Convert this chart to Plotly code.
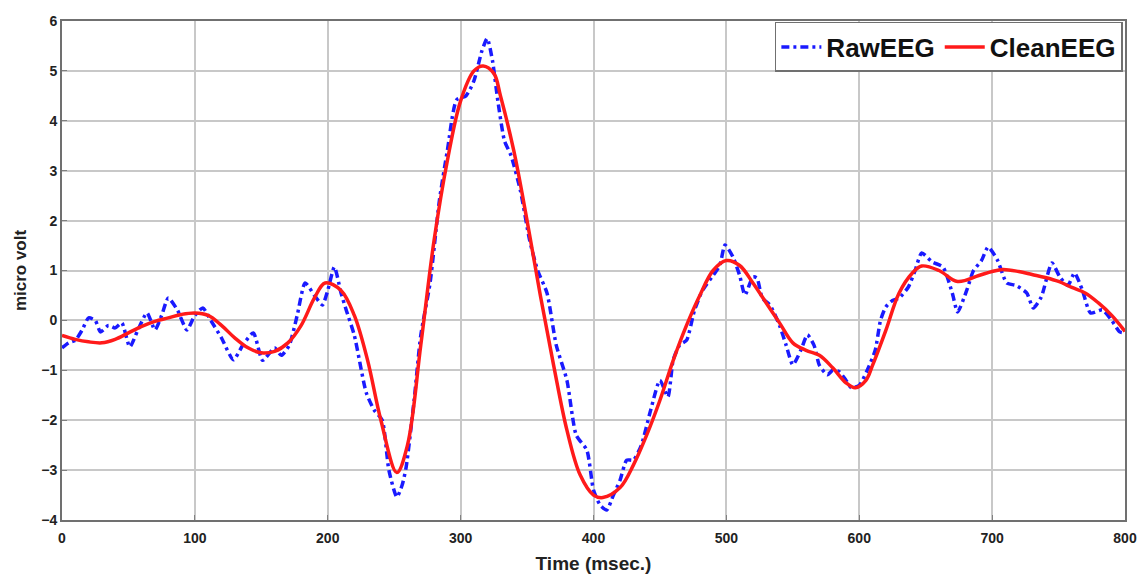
import plotly.graph_objects as go

clean_t = [0, 10, 20, 30, 40, 50, 60, 70, 80, 90, 100, 110, 120, 130, 140, 150, 160, 170, 180, 190,
           198, 210, 220, 230, 240, 252, 260, 270, 280, 290, 300, 310, 317, 325, 330, 340, 350, 360,
           370, 380, 390, 400, 407, 420, 430, 440, 450, 460, 470, 480, 490, 500, 510, 520, 530, 540,
           550, 560, 570, 580, 590, 597, 605, 610, 620, 630, 640, 647, 660, 674, 690, 700, 708, 720,
           730, 740, 750, 760, 770, 780, 790, 800]
clean_v = [-0.3, -0.38, -0.43, -0.45, -0.38, -0.25, -0.12, -0.02, 0.05, 0.12, 0.15, 0.1, -0.1, -0.35,
           -0.55, -0.65, -0.62, -0.45, -0.1, 0.45, 0.75, 0.6, 0.1, -0.8, -2.0, -3.05, -2.5, -0.5, 1.6,
           3.2, 4.4, 5.0, 5.1, 4.95, 4.5, 3.4, 2.0, 0.5, -0.9, -2.2, -3.1, -3.5, -3.55, -3.35, -2.9,
           -2.3, -1.6, -0.8, -0.1, 0.5, 1.0, 1.2, 1.1, 0.75, 0.35, -0.05, -0.45, -0.6, -0.7, -0.95,
           -1.25, -1.35, -1.2, -0.9, -0.2, 0.55, 0.95, 1.09, 1.0, 0.78, 0.9, 0.98, 1.02, 0.98, 0.92,
           0.86, 0.78, 0.66, 0.55, 0.35, 0.1, -0.22]

raw_t = [0, 5, 10, 15, 20, 25, 29, 35, 40, 45, 51, 57, 64, 70, 75, 80, 87, 94, 100, 106, 112, 120,
         129, 136, 144, 151, 160, 165, 171, 177, 183, 190, 196, 200, 205, 210, 214, 220, 229, 235,
         241, 246, 252, 256, 259, 265, 270, 277, 284, 290, 297, 304, 310, 316, 320, 324, 328, 333,
         338, 345, 352, 358, 365, 372, 380, 387, 395, 400, 405, 410, 415, 420, 425, 430, 436, 443,
         450, 456, 460, 465, 470, 476, 482, 490, 495, 499, 505, 510, 514, 520, 523, 527, 533, 540,
         545, 550, 556, 561, 566, 570, 576, 580, 585, 590, 594, 600, 606, 612, 616, 620, 625, 630,
         637, 642, 647, 655, 663, 670, 674, 681, 686, 692, 697, 704, 711, 718, 726, 731, 737, 745,
         751, 757, 762, 768, 774, 783, 790, 796, 800]
raw_v = [-0.55, -0.45, -0.4, -0.2, 0.05, 0.0, -0.23, -0.1, -0.15, -0.05, -0.53, -0.2, 0.15, -0.19,
         0.1, 0.45, 0.2, -0.19, 0.1, 0.25, 0.0, -0.35, -0.79, -0.5, -0.25, -0.8, -0.55, -0.7, -0.5,
         0.1, 0.75, 0.5, 0.31, 0.6, 1.07, 0.55, 0.2, -0.3, -1.45, -1.8, -2.0, -3.0, -3.54, -3.3,
         -2.94, -1.6, -0.3, 0.75, 2.4, 3.4, 4.42, 4.5, 4.8, 5.4, 5.65, 5.2, 4.4, 3.6, 3.3, 2.6, 1.6,
         1.0, 0.55, -0.5, -1.2, -2.3, -2.6, -3.4, -3.7, -3.8, -3.5, -3.2, -2.8, -2.8, -2.5, -1.8,
         -1.2, -1.53, -0.79, -0.49, -0.4, 0.2, 0.6, 0.9, 1.1, 1.51, 1.27, 0.9, 0.51, 0.87, 0.85,
         0.45, 0.3, -0.1, -0.5, -0.89, -0.6, -0.29, -0.5, -0.9, -1.09, -1.0, -1.03, -1.2, -1.35,
         -1.3, -1.0, -0.6, 0.0, 0.27, 0.4, 0.45, 0.67, 1.0, 1.35, 1.17, 1.07, 0.55, 0.17, 0.61, 1.0,
         1.2, 1.47, 1.21, 0.75, 0.7, 0.55, 0.25, 0.47, 1.15, 0.87, 0.7, 0.95, 0.6, 0.15, 0.21, 0.0,
         -0.23, -0.25]

x_ticks = [0, 100, 200, 300, 400, 500, 600, 700, 800]
y_ticks = [-4, -3, -2, -1, 0, 1, 2, 3, 4, 5, 6]

fig = go.Figure()
fig.add_trace(go.Scatter(x=raw_t, y=raw_v, mode="lines", name="RawEEG",
                         line=dict(color="#1a1aff", width=3.5, dash="8px,4px,3px,4px",
                                   shape="spline", smoothing=0.6)))
fig.add_trace(go.Scatter(x=clean_t, y=clean_v, mode="lines", name="CleanEEG",
                         line=dict(color="#ff1a1a", width=3.5, shape="spline", smoothing=1.0)))

axis_common = dict(showgrid=True, gridcolor="#c8c8c8", gridwidth=1.5, showline=True,
                   linecolor="#707070", linewidth=2, mirror=True, ticks="inside", ticklen=5,
                   tickcolor="#808080", zeroline=False, automargin=False,
                   tickfont=dict(family="Liberation Sans", size=14, color="#222", weight="bold"))

fig.update_layout(
    width=1142, height=578,
    margin=dict(l=62, r=17, t=21, b=58),
    paper_bgcolor="white", plot_bgcolor="white",
    xaxis=dict(range=[0, 800], tickvals=x_ticks, ticklabelstandoff=4,
               title=dict(text="Time (msec.)", standoff=12,
                          font=dict(family="Liberation Sans", size=19, color="#222", weight="bold")),
               **axis_common),
    yaxis=dict(range=[-4, 6], tickvals=y_ticks,
               title=dict(text="micro volt", standoff=10,
                          font=dict(family="Liberation Sans", size=17, color="#222", weight="bold")),
               **axis_common),
    legend=dict(orientation="h", x=0.998, y=0.998, xanchor="right", yanchor="top",
                bgcolor="white", bordercolor="#707070", borderwidth=1.5,
                font=dict(family="Liberation Sans", size=26, color="#111", weight="bold"),
                itemwidth=40, tracegroupgap=0),
    showlegend=True,
)

fig.write_html("out.html")
